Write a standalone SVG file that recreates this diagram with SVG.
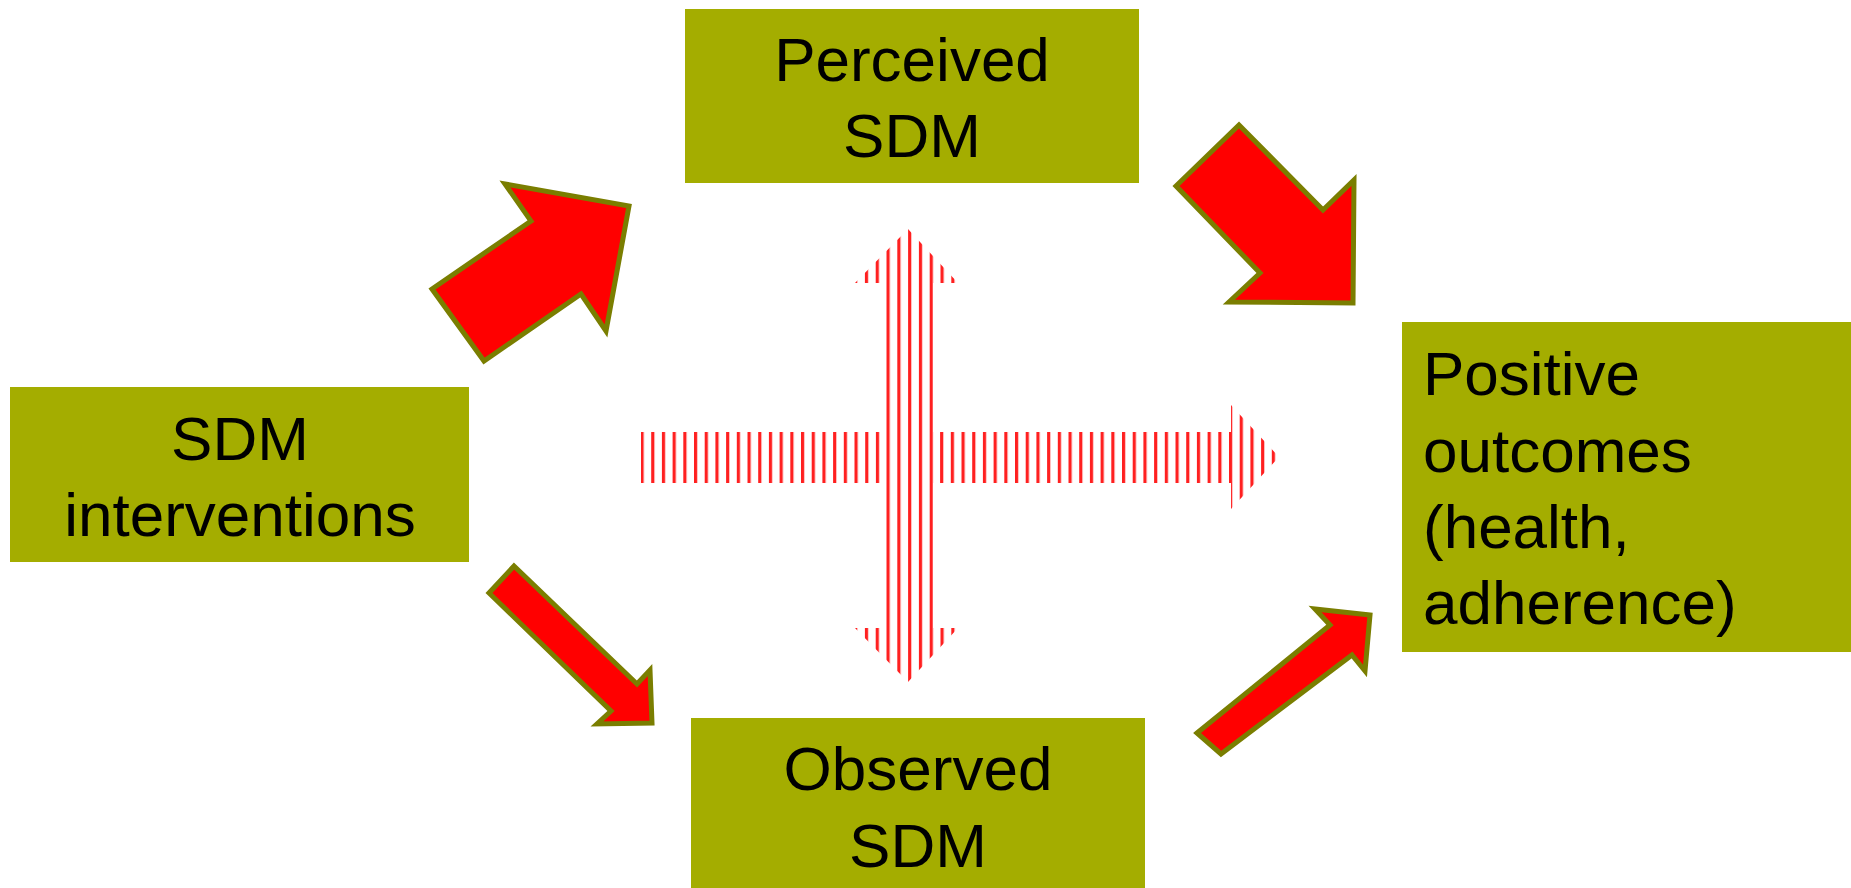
<svg xmlns="http://www.w3.org/2000/svg" width="1851" height="888" viewBox="0 0 1851 888">
<style>
.box{fill:#A4AD00}
.lbl{font-family:"Liberation Sans",Arial,sans-serif;font-size:62px;fill:#000}
.red{fill:#FF0000;stroke:#7A7E00;stroke-width:5;stroke-linejoin:miter}
</style>
<defs>
<pattern id="vstripeH" patternUnits="userSpaceOnUse" x="640.5" y="0" width="10.7" height="10">
<rect x="0" y="0" width="10.7" height="10" fill="#fff"/>
<rect x="0" y="0" width="3.2" height="10" fill="#FF2020"/>
</pattern>
<pattern id="vstripeV" patternUnits="userSpaceOnUse" x="886.5" y="0" width="10.8" height="10">
<rect x="0" y="0" width="10.8" height="10" fill="#fff"/>
<rect x="0" y="0" width="3.2" height="10" fill="#FF2020"/>
</pattern>
</defs>
<rect width="1851" height="888" fill="#fff"/>
<g id="connectors">
<polygon class="red" points="432,289 531,221 505,184 629,206 606,331 581,294 484,361"/>
<polygon class="red" points="1239,125 1323,210 1354,180 1353,303 1229,302 1260,273 1176,186"/>
<polygon class="red" points="514,566 637,684 650,670 652,723 597,724 611,711 489,593"/>
<polygon class="red" points="1197,733 1330,625 1315,609 1370,615 1365,671 1352,655 1221,754"/>
<polygon id="horiz-arrow" fill="url(#vstripeH)" points="641,432 1231,432 1231,405 1279,457 1231,509 1231,483 641,483"/>
<polygon id="vert-arrow" fill="url(#vstripeV)" points="908,229 958,283 933,283 933,628 958,628 908,682 855,628 885,628 885,283 855,283"/>
</g>
<g id="node-interventions">
<rect class="box" x="10" y="387" width="459" height="175"/>
<text class="lbl" x="240" y="460" text-anchor="middle">SDM</text>
<text class="lbl" x="240" y="536" text-anchor="middle">interventions</text>
</g>
<g id="node-perceived">
<rect class="box" x="685" y="9" width="454" height="174"/>
<text class="lbl" x="912" y="81" text-anchor="middle">Perceived</text>
<text class="lbl" x="912" y="157" text-anchor="middle">SDM</text>
</g>
<g id="node-observed">
<rect class="box" x="691" y="718" width="454" height="170"/>
<text class="lbl" x="918" y="790" text-anchor="middle">Observed</text>
<text class="lbl" x="918" y="867" text-anchor="middle">SDM</text>
</g>
<g id="node-outcomes">
<rect class="box" x="1402" y="322" width="449" height="330"/>
<text class="lbl" x="1423" y="395">Positive</text>
<text class="lbl" x="1423" y="472">outcomes</text>
<text class="lbl" x="1423" y="548">(health,</text>
<text class="lbl" x="1423" y="624">adherence)</text>
</g>
</svg>
